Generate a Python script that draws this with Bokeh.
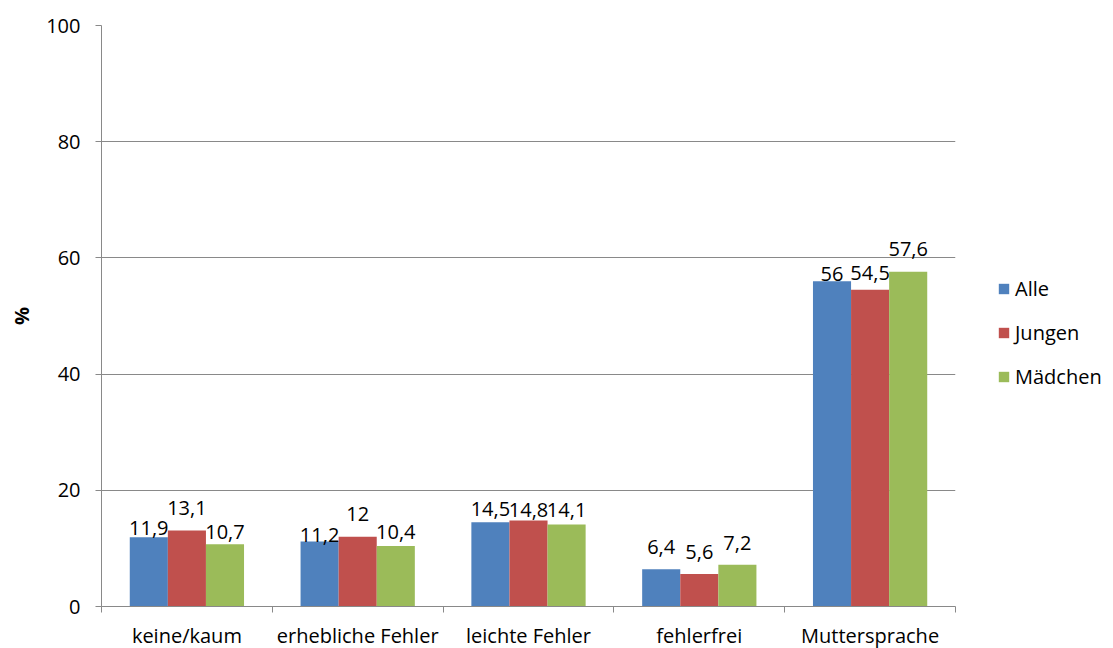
from bokeh.plotting import figure
from bokeh.models import (Range1d, FixedTicker, ColumnDataSource, Legend,
                          LegendItem)
from bokeh.core.properties import value
from bokeh.embed import file_html
from bokeh.resources import INLINE

# ---- data ----
categories = ["keine/kaum", "erhebliche Fehler", "leichte Fehler",
              "fehlerfrei", "Muttersprache"]
series_names = ["Alle", "Jungen", "Mädchen"]
alle = [11.9, 11.2, 14.5, 6.4, 56]
jungen = [13.1, 12, 14.8, 5.6, 54.5]
maedchen = [10.7, 10.4, 14.1, 7.2, 57.6]
y_ticks = [0, 20, 40, 60, 80, 100]

# label lift above bar top in pixels (mimics the original label placement)
lift_alle = [4, 1, 8, 17, 2]
lift_jungen = [17, 18, 6, 17, 12]
lift_maedchen = [7, 9, 10, 17, 18]
BASELINE_FIX = 5  # compensates the renderer's baseline position

colors = ["#4F81BD", "#C0504D", "#9BBB59"]
FONT = "Open Sans"
GRID = "#898989"

n = len(categories)
bar_w = 0.223
offsets = [-bar_w, 0.0, bar_w]

p = figure(frame_width=854, frame_height=581,
           min_border_left=101, min_border_right=158,
           min_border_top=25, min_border_bottom=42,
           x_range=Range1d(0, n), y_range=Range1d(0, 100),
           output_backend="svg", toolbar_location=None)
p.outline_line_color = None
p.background_fill_color = "white"
p.border_fill_color = "white"

series = [alle, jungen, maedchen]
lifts = [lift_alle, lift_jungen, lift_maedchen]
items = []
for name, vals, lift, col, off in zip(series_names, series, lifts, colors, offsets):
    xs = [i + 0.5 + off for i in range(n)]
    src = ColumnDataSource(dict(
        x=xs, top=vals,
        label=[("%g" % v).replace(".", ",") for v in vals],
        yoff=[-(l + BASELINE_FIX) for l in lift]))
    r = p.vbar(x="x", top="top", width=bar_w, source=src,
               fill_color=col, line_color=None)
    p.text(x="x", y="top", text="label", source=src, y_offset="yoff",
           text_align="center", text_baseline="alphabetic",
           text_font=value(FONT), text_font_size="20px", text_color="black")
    items.append(LegendItem(label=name, renderers=[r]))

# axes
p.xgrid.visible = False
p.ygrid.ticker = FixedTicker(ticks=y_ticks)
p.ygrid.grid_line_color = GRID
p.ygrid.grid_line_width = 1

centers = [i + 0.5 for i in range(n)]
xa = p.xaxis[0]
xa.ticker = FixedTicker(ticks=centers, minor_ticks=list(range(n + 1)))
xa.major_label_overrides = {c: lab for c, lab in zip(centers, categories)}
xa.axis_line_color = GRID
xa.major_tick_out = 0
xa.major_tick_in = 0
xa.major_tick_line_color = None
xa.minor_tick_out = 6
xa.minor_tick_in = 0
xa.minor_tick_line_color = GRID
xa.major_label_standoff = 9
xa.major_label_text_font = FONT
xa.major_label_text_font_size = "20px"
xa.major_label_text_color = "black"

ya = p.yaxis[0]
ya.ticker = FixedTicker(ticks=y_ticks)
ya.axis_line_color = GRID
ya.major_tick_line_color = GRID
ya.major_tick_out = 6
ya.major_tick_in = 0
ya.minor_tick_line_color = None
ya.major_label_standoff = 15
ya.major_label_text_font = FONT
ya.major_label_text_font_size = "20px"
ya.major_label_text_color = "black"
ya.axis_label = "%"
ya.axis_label_text_font = FONT
ya.axis_label_text_font_size = "20px"
ya.axis_label_text_font_style = "bold"
ya.axis_label_text_color = "black"
ya.axis_label_standoff = 8

legend = Legend(items=items, location=(42, 216), orientation="vertical",
                border_line_color=None, background_fill_alpha=0,
                padding=0, margin=0, spacing=17,
                glyph_width=13, glyph_height=13, label_standoff=5,
                label_text_font=FONT, label_text_font_size="20px",
                label_text_color="black")
p.add_layout(legend, "right")

open("out.html", "w").write(file_html(p, INLINE))
